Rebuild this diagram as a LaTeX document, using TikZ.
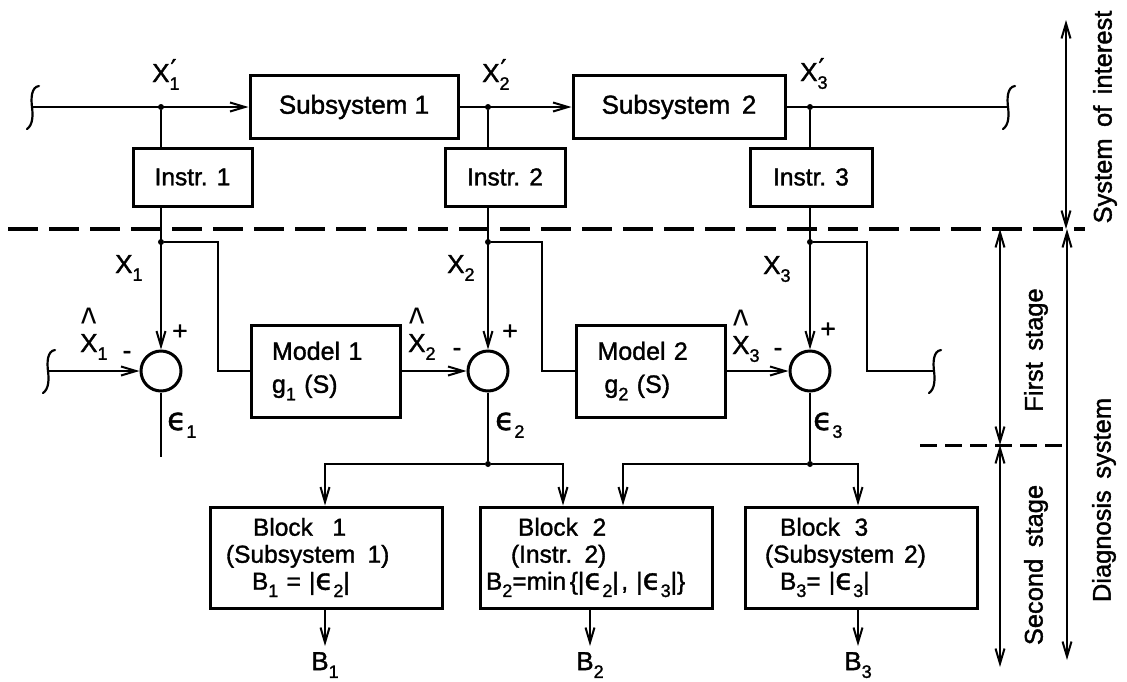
\documentclass[tikz,border=0pt]{standalone}
\usepackage{fontspec}
\usepackage{graphicx}
\setmainfont{Liberation Sans}[FakeBold=1.4]
\newfontfamily\plainsans{Liberation Sans}
\newfontfamily\dejavu{DejaVu Sans}[FakeBold=1.2]
\usetikzlibrary{arrows.meta,calc}

% subscripts, primes, hats and epsilons in the lettering style
\newcommand\sbs[1]{\raisebox{-0.3em}{\fontsize{18}{18}\selectfont #1}}
\newcommand\eps{\scalebox{1.2}{\dejavu ϵ}}
\newcommand\prm[2]{#1\makebox[0pt][l]{\raisebox{0.15em}{\kern1pt{\dejavu ′}}}\sbs{#2}}
\newcommand\hatx[1]{\makebox[0pt][l]{\makebox[0.667em]{\raisebox{0.52em}{\scalebox{1.25}[1.7]{\plainsans\textasciicircum}}}}X\sbs{#1}}

\tikzset{
  wire/.style={line width=2pt},
  box/.style={draw, line width=3pt, inner sep=0pt, font=\fontsize{24.5}{28}\selectfont},
  subbox/.style={box, minimum height=63pt, font=\fontsize{26}{28}\selectfont},
  insbox/.style={box, minimum height=58pt},
  modelbox/.style={box, minimum height=92pt, text width=107pt, inner xsep=21pt,
                   align=left, font=\fontsize{25}{33}\selectfont},
  blockbox/.style={box, minimum height=101pt, text width=220pt, inner xsep=6pt,
                   align=left, font=\fontsize{24.5}{27}\selectfont},
  sumnode/.style={draw, circle, line width=3pt, minimum size=40pt, inner sep=0pt},
  dot/.style={circle, fill, inner sep=0pt, minimum size=6pt},
  lab/.style={inner sep=0pt, font=\fontsize{26}{30}\selectfont},
  outlab/.style={lab, inner sep=6pt, anchor=north},
  sidelab/.style={lab, rotate=90, font=\fontsize{25.5}{30}\selectfont},
  brk/.style={line width=2.2pt, line cap=round},
  sep/.style={line width=3.5pt, dash pattern=on 30pt off 11pt},
  sepshort/.style={line width=3pt, dash pattern=on 17pt off 8pt},
  span/.style={line width=2pt, <->},
}

\begin{document}
\begin{tikzpicture}[x=1pt, y=-1pt, >={Straight Barb[length=15pt,width=9pt]}]
\useasboundingbox (0,0) rectangle (1127,681);

% ---------- system of interest ----------
\node[subbox, minimum width=208pt] (sub1) at (354,107) {Subsystem 1};
\node[subbox, minimum width=212pt] (sub2) at (679,107) {Subsystem\hspace{0.45em}2};
\node[insbox, minimum width=119pt] (ins1) at (192.5,177) {Instr. 1};
\node[insbox, minimum width=120pt] (ins2) at (505,177) {Instr. 2};
\node[insbox, minimum width=122pt] (ins3) at (811,177) {Instr. 3};

\coordinate (inA) at (32,107);
\coordinate (outA) at (1008,107);
\node[dot] (jt1) at (161,107) {};
\node[dot] (jt2) at (488,107) {};
\node[dot] (jt3) at (810,107) {};

\draw[wire,->] (inA) -- (sub1.west);
\draw[wire,->] (sub1.east) -- (sub2.west);
\draw[wire] (sub2.east) -- (outA);
\draw[wire] (jt1) -- (jt1 |- ins1.north);
\draw[wire] (jt2) -- (jt2 |- ins2.north);
\draw[wire] (jt3) -- (jt3 |- ins3.north);

% line-break marks
\foreach \p in {inA,outA}
  \draw[brk] ($(\p)+(7,-21)$) .. controls ($(\p)+(-1,-20)$) and ($(\p)+(-1,-8)$) .. (\p)
             .. controls ($(\p)+(1,8)$) and ($(\p)+(1,18)$) .. ($(\p)+(-5,22)$);

% stage boundary
\coordinate (sepL) at (8,229);
\coordinate (sepR) at (1085,229);
\draw[sep] (sepL) -- (sepR);

% ---------- first stage ----------
\node[sumnode] (s1) at (161,371) {};
\node[sumnode] (s2) at (488,371) {};
\node[sumnode] (s3) at (810,371) {};
\node[modelbox] (m1) at (325.5,371) {Model 1\\g\sbs{1} (S)};
\node[modelbox] (m2) at (651,371) {Model 2\\\hspace*{7pt}g\sbs{2} (S)};

\node[dot] (jb1) at (161,242) {};
\node[dot] (jb2) at (488,242) {};
\node[dot] (jb3) at (810,242) {};

\draw[wire,->] (jt1 |- ins1.south) -- (s1.north);
\draw[wire,->] (jt2 |- ins2.south) -- (s2.north);
\draw[wire,->] (jt3 |- ins3.south) -- (s3.north);

\draw[wire] (jb1) -| ($(m1.west)+(-32,0)$) -- (m1.west);
\draw[wire] (jb2) -| ($(m2.west)+(-33,0)$) -- (m2.west);
\coordinate (outB) at (934,371);
\draw[wire] (jb3) -| ($(outB)+(-67,0)$) -- (outB);

\coordinate (inB) at (48,371);
\draw[wire,->] (inB) -- (s1.west);
\draw[wire,->] (m1.east) -- (s2.west);
\draw[wire,->] (m2.east) -- (s3.west);

\foreach \p in {inB,outB}
  \draw[brk] ($(\p)+(7,-21)$) .. controls ($(\p)+(-1,-20)$) and ($(\p)+(-1,-8)$) .. (\p)
             .. controls ($(\p)+(1,8)$) and ($(\p)+(1,18)$) .. ($(\p)+(-5,22)$);

% signal labels
\node[lab, anchor=base west] (lx1p) at (152,82) {\prm{X}{1}};
\node[lab, anchor=base west] (lx2p) at (482,82) {\prm{X}{2}};
\node[lab, anchor=base west] (lx3p) at (800,81) {\prm{X}{3}};
\node[lab, anchor=base west] (lx1) at (115,273) {X\sbs{1}};
\node[lab, anchor=base west] (lx2) at (447,273) {X\sbs{2}};
\node[lab, anchor=base west] (lx3) at (763,274) {X\sbs{3}};
\node[lab, anchor=base west] (lh1) at (80,352) {\hatx{1}};
\node[lab, anchor=base west] (lh2) at (408,352) {\hatx{2}};
\node[lab, anchor=base west] (lh3) at (732,354) {\hatx{3}};
\node[lab] (pl1) at (180,332) {+};
\node[lab] (pl2) at (510,332) {+};
\node[lab] (pl3) at (828,330) {+};
\node[lab] (mi1) at (127,355) {-};
\node[lab] (mi2) at (457,352) {-};
\node[lab] (mi3) at (778,352) {-};
\node[lab, anchor=base west] (le1) at (167,430) {\eps\sbs{1}};
\node[lab, anchor=base west] (le2) at (495,430) {\eps\sbs{2}};
\node[lab, anchor=base west] (le3) at (813,430) {\eps\sbs{3}};

% ---------- second stage ----------
\node[blockbox] (b1) at (326,557.5)
  {\hspace*{37pt}Block\hspace{0.8em}1\\\hspace*{10pt}(Subsystem\hspace{0.5em}1)\\\hspace*{36pt}B\sbs{1} = |\eps\sbs{2}|};
\node[blockbox] (b2) at (596,557.5)
  {\hspace*{32pt}Block\hspace{0.6em}2\\\hspace*{25pt}(Instr.\hspace{0.5em}2)\\B\sbs{2}=min\hspace{0.15em}\{|\eps\sbs{2}|\hspace{0.1em}, |\eps\sbs{3}|\}};
\node[blockbox] (b3) at (861,557.5)
  {\hspace*{29pt}Block\hspace{0.6em}3\\\hspace*{14pt}(Subsystem\hspace{0.4em}2)\\\hspace*{29pt}B\sbs{3}= |\eps\sbs{3}|};

\coordinate (e1) at (161,457);
\draw[wire] (s1.south) -- (e1);
\node[dot] (jd2) at (488,464) {};
\node[dot] (jd3) at (810,464) {};
\draw[wire] (s2.south) -- (jd2);
\draw[wire] (s3.south) -- (jd3);

\coordinate (a1) at (325,464);
\coordinate (a2) at (563,464);
\coordinate (a3) at (623,464);
\coordinate (a4) at (858,464);
\draw[wire,->] (jd2) -- (a1) -- (a1 |- b1.north);
\draw[wire,->] (jd2) -- (a2) -- (a2 |- b2.north);
\draw[wire,->] (jd3) -- (a3) -- (a3 |- b2.north);
\draw[wire,->] (jd3) -- (a4) -- (a4 |- b3.north);

\node[outlab] (o1) at (325,646) {B\sbs{1}};
\node[outlab] (o2) at (590,646) {B\sbs{2}};
\node[outlab] (o3) at (858,646) {B\sbs{3}};
\draw[wire,->] (o1 |- b1.south) -- (o1.north);
\draw[wire,->] (o2 |- b2.south) -- (o2.north);
\draw[wire,->] (o3 |- b3.south) -- (o3.north);

% ---------- extent markers ----------
\coordinate (sysT) at (1066,20);
\coordinate (sysB) at (1066,229);
\coordinate (fsT) at (1000,229);
\coordinate (fsB) at (1000,445);
\coordinate (ssB) at (1000,667);
\coordinate (dgT) at (1067,229);
\coordinate (dgB) at (1067,660);
\coordinate (midL) at (920,445);
\draw[span] (sysT) -- (sysB);
\draw[span] (fsT) -- (fsB);
\draw[span] (fsB) -- (ssB);
\draw[span] (dgT) -- (dgB);
\draw[sepshort] (midL) -- (midL -| dgT);

\node[sidelab] (t1) at (1105,117) {System\hspace{0.45em}of\hspace{0.45em}interest};
\node[sidelab] (t2) at (1036,350) {First\hspace{0.45em}stage};
\node[sidelab] (t3) at (1036,565) {Second\hspace{0.45em}stage};
\node[sidelab] (t4) at (1104,500) {Diagnosis\hspace{0.45em}system};
\end{tikzpicture}
\end{document}
